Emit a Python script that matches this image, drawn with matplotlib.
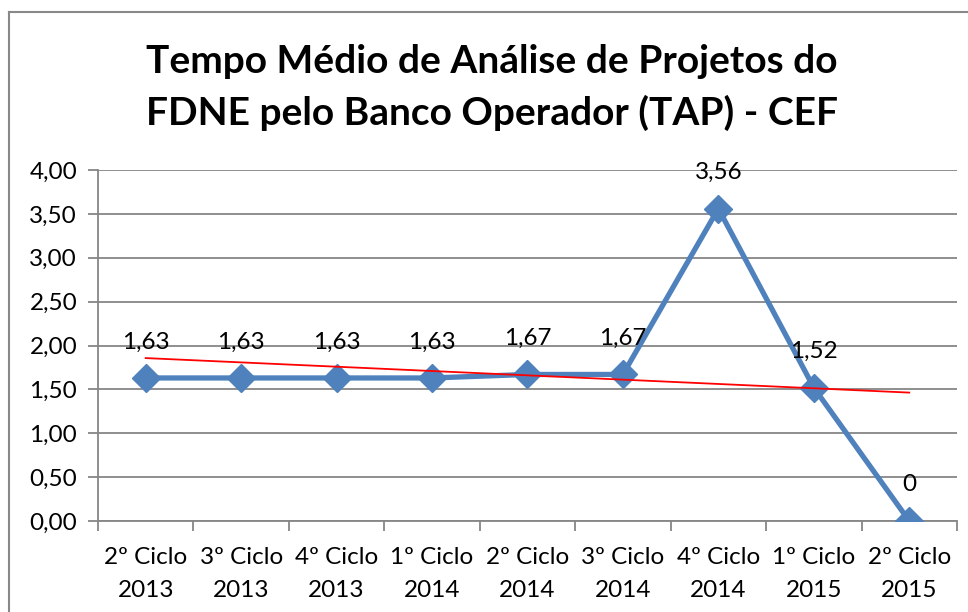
import numpy as np
import matplotlib.pyplot as plt
from matplotlib.lines import Line2D

plt.rcParams['font.family'] = ['Lato', 'DejaVu Sans']

# dados
ciclos = ['2º Ciclo\n2013', '3º Ciclo\n2013', '4º Ciclo\n2013', '1º Ciclo\n2014',
          '2º Ciclo\n2014', '3º Ciclo\n2014', '4º Ciclo\n2014', '1º Ciclo\n2015',
          '2º Ciclo\n2015']
tap = [1.63, 1.63, 1.63, 1.63, 1.67, 1.67, 3.56, 1.52, 0]
rotulos = ['1,63', '1,63', '1,63', '1,63', '1,67', '1,67', '3,56', '1,52', '0']
yticks = [0, 0.5, 1.0, 1.5, 2.0, 2.5, 3.0, 3.5, 4.0]

fs = 17.5

fig = plt.figure(figsize=(9.68, 6.12), dpi=100)
ax = fig.add_axes([0.1012, 0.1487, 0.8874, 0.5735])

x = np.arange(len(tap))
ax.plot(x, tap, color='#4F81BD', lw=3.8, marker='D', ms=14, zorder=3)

# linha de tendencia linear
a, b = np.polyfit(x, tap, 1)
ax.plot(x, a * x + b, color='#FF0000', lw=1.3, zorder=4)

for xi, yi, lab in zip(x, tap, rotulos):
    ax.annotate(lab, (xi, yi), xytext=(0, 26), textcoords='offset points',
                ha='center', va='center', fontsize=fs, color='black', zorder=5)

ax.set_xlim(-0.5, len(tap) - 0.5)
ax.set_ylim(0, 4)
ax.set_yticks(yticks)
ax.set_yticklabels([('%.2f' % v).replace('.', ',') for v in yticks], fontsize=fs)
ax.set_xticks(x)
ax.set_xticklabels(ciclos, fontsize=fs, linespacing=1.7)
ax.set_xticks(np.arange(-0.5, len(tap)), minor=True)
ax.tick_params(axis='x', which='major', length=0, pad=19)
ax.tick_params(axis='x', which='minor', length=7, width=1.3, color='#868686')
ax.tick_params(axis='y', length=7, width=1.3, color='#868686', pad=8)

ax.grid(axis='y', color='#868686', lw=1.3)
ax.set_axisbelow(True)
for s in ['top', 'right']:
    ax.spines[s].set_visible(False)
for s in ['left', 'bottom']:
    ax.spines[s].set_color('#868686')
    ax.spines[s].set_linewidth(1.3)

fig.text(0.508, 0.857, 'Tempo Médio de Análise de Projetos do\nFDNE pelo Banco Operador (TAP) - CEF',
         ha='center', va='center', fontsize=28, fontweight='bold', linespacing=1.55)

# borda do grafico
fig.add_artist(Line2D([9 / 968, 1], [1 - 12 / 612, 1 - 12 / 612], color='#888888', lw=1.5))
fig.add_artist(Line2D([9 / 968, 9 / 968], [0, 1 - 12 / 612], color='#888888', lw=1.5))

fig.savefig('out.png', dpi=100)
